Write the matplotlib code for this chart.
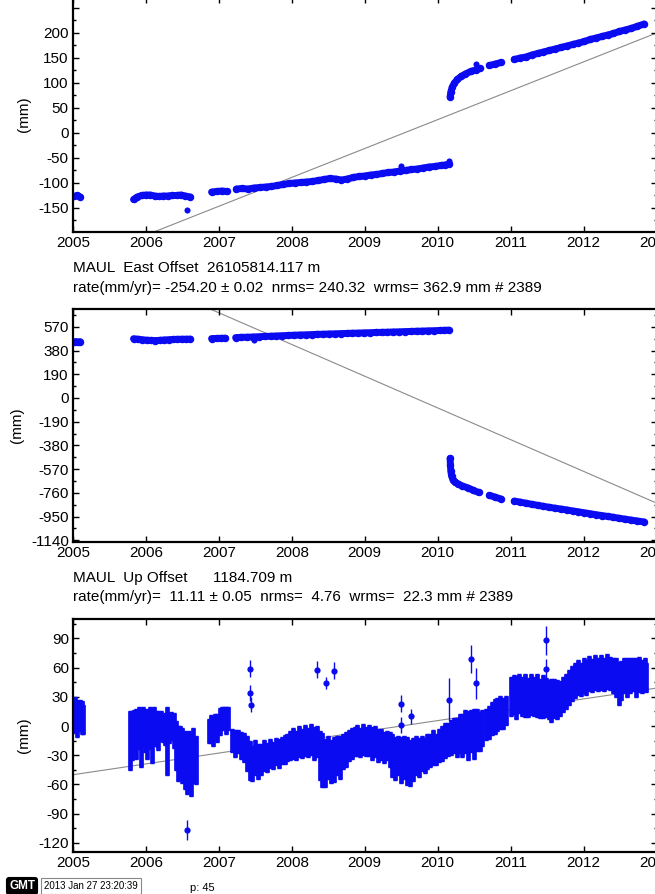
import numpy as np
import matplotlib
matplotlib.use("Agg")
import matplotlib.pyplot as plt
from matplotlib.ticker import MultipleLocator, FixedLocator, FuncFormatter

plt.rcParams['font.family'] = ['Liberation Sans', 'DejaVu Sans']
plt.rcParams['axes.unicode_minus'] = False

W, H = 655, 894
BLUE = '#0b0bf2'
GRAY = '#8a8a8a'
EQ_T = 2010.165          # offset epoch, the series are split there

# ---- top panel (north), mm -------------------------------------------
north_t = [2005.02, 2005.06, 2005.10,
           2005.83, 2005.88, 2005.94, 2006.00, 2006.06, 2006.12, 2006.18, 2006.24,
           2006.30, 2006.36, 2006.42, 2006.48, 2006.54, 2006.61,
           2006.90, 2006.97, 2007.04, 2007.11,
           2007.24, 2007.32, 2007.40, 2007.48, 2007.56, 2007.64, 2007.72, 2007.80,
           2007.88, 2007.96, 2008.04, 2008.12, 2008.20, 2008.28, 2008.36, 2008.44,
           2008.52, 2008.60, 2008.68, 2008.76, 2008.84, 2008.92, 2009.00, 2009.08,
           2009.16, 2009.24, 2009.32, 2009.40, 2009.48, 2009.56, 2009.64, 2009.72,
           2009.80, 2009.88, 2009.96, 2010.04, 2010.10, 2010.16,
           2010.17, 2010.18, 2010.20, 2010.23, 2010.27, 2010.32, 2010.38, 2010.45,
           2010.52, 2010.58,
           2010.71, 2010.79, 2010.87,
           2011.05, 2011.13, 2011.21, 2011.29, 2011.37, 2011.45, 2011.53, 2011.61,
           2011.69, 2011.77, 2011.85, 2011.93, 2012.01, 2012.09, 2012.17, 2012.25,
           2012.33, 2012.41, 2012.49, 2012.57, 2012.65, 2012.73, 2012.83]
north_v = [-127, -125, -128,
           -133, -128, -125, -124, -124, -126, -127, -126,
           -126, -125, -125, -124, -126, -128,
           -118, -117, -116, -117,
           -112, -111, -112, -110, -109, -108, -107, -105,
           -103, -101, -100, -99, -98, -97, -95, -93,
           -91, -92, -94, -92, -89, -87, -86, -84,
           -83, -81, -79, -78, -76, -75, -73, -72,
           -70, -68, -67, -65, -64, -62,
           72, 82, 92, 100, 107, 113, 118, 123,
           126, 129,
           135, 138, 141,
           147, 150, 152, 156, 159, 162, 165, 168,
           171, 174, 177, 180, 183, 187, 190, 193,
           196, 199, 203, 206, 209, 213, 218]
north_out_t = [2006.56, 2009.50, 2010.15, 2010.53]
north_out_v = [-154, -66, -57, 137]
north_fit = [-262, 200]          # fitted line at 2005 and 2013

# ---- middle panel (east), mm ------------------------------------------
east_t = [2005.03, 2005.07, 2005.10,
          2005.83, 2005.89, 2005.95, 2006.01, 2006.07, 2006.13, 2006.19, 2006.25,
          2006.31, 2006.37, 2006.43, 2006.49, 2006.55, 2006.61,
          2006.90, 2006.97, 2007.03, 2007.09,
          2007.23, 2007.31, 2007.39, 2007.47, 2007.55, 2007.63, 2007.71, 2007.79,
          2007.87, 2007.95, 2008.03, 2008.11, 2008.19, 2008.27, 2008.35, 2008.43,
          2008.51, 2008.59, 2008.67, 2008.75, 2008.83, 2008.91, 2008.99, 2009.07,
          2009.15, 2009.23, 2009.31, 2009.39, 2009.47, 2009.55, 2009.63, 2009.71,
          2009.79, 2009.87, 2009.95, 2010.03, 2010.09, 2010.15,
          2010.170, 2010.175, 2010.18, 2010.19, 2010.21, 2010.24, 2010.28, 2010.33,
          2010.42, 2010.49, 2010.56,
          2010.71, 2010.79, 2010.87,
          2011.05, 2011.13, 2011.21, 2011.29, 2011.37, 2011.45, 2011.53, 2011.61,
          2011.69, 2011.77, 2011.85, 2011.93, 2012.01, 2012.09, 2012.17, 2012.25,
          2012.33, 2012.41, 2012.49, 2012.57, 2012.65, 2012.73, 2012.83]
east_v = [452, 450, 451,
          475, 471, 467, 463, 461, 460, 462, 465,
          467, 469, 470, 471, 471, 472,
          476, 477, 478, 479,
          484, 486, 487, 489, 491, 493, 495, 497,
          499, 501, 503, 505, 506, 508, 510, 511,
          513, 514, 516, 517, 519, 520, 522, 523,
          525, 526, 527, 529, 530, 532, 533, 535,
          536, 538, 539, 541, 542, 544,
          -484, -540, -585, -625, -655, -675, -688, -703,
          -722, -740, -757,
          -780, -795, -810,
          -826, -834, -843, -852, -860, -868, -876, -883,
          -890, -897, -905, -912, -920, -927, -935, -942,
          -949, -956, -964, -971, -978, -985, -993]
east_out_t = [2007.48]
east_out_v = [463]
east_fit = [1191, -842]

# ---- bottom panel (up), mm: centre and spread of the dense band -------
up_t = [2005.00, 2005.03, 2005.06, 2005.09, 2005.12, 2005.14,
        2005.78, 2005.81, 2005.84, 2005.87, 2005.90, 2005.93, 2005.96, 2005.99,
        2006.02, 2006.05, 2006.08, 2006.11, 2006.14, 2006.17, 2006.20, 2006.23,
        2006.26, 2006.29, 2006.32, 2006.35, 2006.38, 2006.41, 2006.44, 2006.47,
        2006.50, 2006.53, 2006.56, 2006.59, 2006.62, 2006.65, 2006.68,
        2006.86, 2006.89, 2006.92, 2006.95, 2006.98, 2007.01, 2007.04, 2007.07,
        2007.10, 2007.13,
        2007.18, 2007.22, 2007.26, 2007.30, 2007.34, 2007.38, 2007.42, 2007.46,
        2007.50, 2007.54, 2007.58, 2007.62, 2007.66, 2007.70, 2007.74, 2007.78,
        2007.82, 2007.86, 2007.90, 2007.94, 2007.98, 2008.02, 2008.06, 2008.10,
        2008.14, 2008.18, 2008.22, 2008.26, 2008.30, 2008.34, 2008.38, 2008.42,
        2008.46, 2008.50, 2008.54, 2008.58, 2008.62, 2008.66, 2008.70, 2008.74,
        2008.78, 2008.82, 2008.86, 2008.90, 2008.94, 2008.98, 2009.02, 2009.06,
        2009.10, 2009.14, 2009.18, 2009.22, 2009.26, 2009.30, 2009.34, 2009.38,
        2009.42, 2009.46, 2009.50, 2009.54, 2009.58, 2009.62, 2009.66, 2009.70,
        2009.74, 2009.78, 2009.82, 2009.86, 2009.90, 2009.94, 2009.98, 2010.02,
        2010.06, 2010.10, 2010.14, 2010.18, 2010.22, 2010.26, 2010.30, 2010.34,
        2010.38, 2010.42, 2010.46, 2010.50, 2010.54, 2010.58, 2010.61,
        2010.66, 2010.70, 2010.74, 2010.78, 2010.82, 2010.86, 2010.90, 2010.93,
        2011.00, 2011.04, 2011.08, 2011.12, 2011.16, 2011.20, 2011.24, 2011.28,
        2011.32, 2011.36, 2011.40, 2011.44, 2011.48, 2011.52, 2011.56, 2011.60,
        2011.64, 2011.68, 2011.72, 2011.76, 2011.80, 2011.84, 2011.88, 2011.92,
        2011.96, 2012.00, 2012.04, 2012.08, 2012.12, 2012.16, 2012.20, 2012.24,
        2012.28, 2012.32, 2012.36, 2012.40, 2012.44, 2012.48, 2012.52, 2012.56,
        2012.60, 2012.64, 2012.68, 2012.72, 2012.76, 2012.80, 2012.84, 2012.86]
up_v = [10, 12, 8, 11, 9, 7,
        -15, -10, -5, -8, -2, -12, 0, -5,
        -8, -2, -10, 0, -3, -5, 0, -2,
        -3, -15, -2, 0, -5, -20, -28, -25,
        -30, -35, -38, -35, -40, -30, -35,
        -5, -3, -6, 0, -2, 5, 8, 10,
        6, 8,
        -15, -18, -16, -20, -22, -28, -35, -38,
        -32, -36, -34, -30, -32, -28, -30, -26,
        -28, -25, -24, -22, -20, -18, -20, -16,
        -18, -15, -17, -14, -18, -16, -30, -35,
        -38, -32, -36, -34, -30, -32, -26, -24,
        -20, -18, -16, -15, -17, -14, -16, -15,
        -18, -16, -20, -19, -22, -20, -24, -30,
        -33, -30, -35, -32, -36, -38, -34, -30,
        -32, -28, -30, -26, -25, -22, -24, -20,
        -18, -15, -14, -12, -10, -12, -8, -10,
        -6, -10, -5, -8, -4, -6, -2,
        2, 4, 8, 10, 12, 14, 13, 16,
        30, 32, 29, 33, 30, 31, 29, 32,
        30, 31, 28, 30, 29, 27, 26, 28,
        27, 28, 32, 36, 40, 44, 47, 50,
        48, 52, 50, 54, 52, 55, 53, 55,
        53, 56, 54, 52, 50, 44, 47, 52,
        50, 52, 53, 50, 53, 51, 54, 50]
up_e = [17, 18, 19, 16, 17, 15,
        30, 25, 22, 26, 22, 30, 20, 22,
        26, 22, 28, 20, 18, 20, 15, 14,
        16, 35, 15, 14, 18, 25, 28, 25,
        28, 30, 32, 30, 32, 28, 25,
        12, 14, 14, 12, 14, 14, 12, 10,
        14, 12,
        12, 14, 12, 14, 15, 18, 20, 18,
        18, 18, 16, 16, 15, 15, 14, 14,
        15, 14, 15, 14, 15, 16, 15, 16,
        15, 16, 15, 16, 17, 16, 25, 28,
        25, 22, 22, 23, 20, 22, 18, 18,
        16, 16, 15, 16, 15, 16, 15, 16,
        17, 16, 17, 16, 16, 15, 18, 22,
        22, 20, 24, 22, 25, 24, 22, 20,
        20, 18, 18, 18, 17, 18, 16, 17,
        18, 18, 17, 18, 18, 20, 20, 22,
        22, 25, 22, 26, 22, 20, 18,
        16, 17, 17, 18, 17, 17, 16, 15,
        20, 20, 22, 20, 20, 22, 20, 21,
        20, 22, 20, 22, 20, 20, 22, 20,
        20, 18, 18, 18, 18, 18, 18, 18,
        17, 18, 18, 18, 17, 18, 17, 18,
        17, 18, 17, 18, 20, 22, 20, 18,
        20, 18, 17, 20, 18, 17, 16, 15]
# isolated points with their own error bars
up_out_t = [2006.56, 2007.42, 2007.43, 2007.44, 2008.34, 2008.47, 2008.58,
            2009.50, 2009.50, 2009.63, 2010.15, 2010.46, 2010.52, 2011.48, 2011.48]
up_out_v = [-107, 59, 34, 22, 58, 44, 57, 23, 1, 10, 27, 69, 44, 88, 59]
up_out_e = [10, 9, 8, 8, 9, 6, 9, 9, 8, 8, 22, 14, 16, 15, 10]
up_fit = [-50, 39]

fit_t = [2005, 2013]
years = list(range(2005, 2014))


def px_axes(fig, top, bottom, left=73, right=656.5):
    # axes placed by pixel edges of the figure
    return fig.add_axes([left / W, 1 - bottom / H, (right - left) / W, (bottom - top) / H])


def style(ax, ylim, major, minor, labels=None):
    ax.set_xlim(2005, 2013)
    ax.set_ylim(*ylim)
    ax.xaxis.set_major_locator(FixedLocator(years))
    ax.xaxis.set_major_formatter(FuncFormatter(lambda v, p: '%d' % v))
    ax.yaxis.set_major_locator(FixedLocator(major))
    ax.yaxis.set_minor_locator(MultipleLocator(minor))
    if labels is not None:
        ax.set_yticklabels(labels)
    ax.tick_params(which='both', direction='in', top=True, right=True,
                   labelsize=11, width=1.0, pad=3)
    ax.tick_params(which='major', length=4.5)
    ax.tick_params(which='minor', length=2.5)
    for s in ax.spines.values():
        s.set_linewidth(1.6)
    ax.set_ylabel('(mm)', fontsize=11, labelpad=5)


def split(t, v):
    t = np.asarray(t, float)
    v = np.asarray(v, float)
    cut = np.where((np.diff(t) > 0.11) | ((t[:-1] < EQ_T) & (t[1:] > EQ_T)))[0] + 1
    return zip(np.split(t, cut), np.split(v, cut))


def draw_series(ax, t, v, out_t, out_v, fit):
    ax.plot(fit_t, fit, color=GRAY, lw=0.8, zorder=1)
    for st, sv in split(t, v):
        ax.plot(st, sv, '-o', color=BLUE, lw=5.0, ms=5.4, mew=0,
                solid_capstyle='round', zorder=2)
    ax.plot(out_t, out_v, 'o', color=BLUE, ms=4.4, mew=0, zorder=2)


def main():
    fig = plt.figure(figsize=(W / 100, H / 100), dpi=100)

    ax1 = px_axes(fig, -3, 232)
    draw_series(ax1, north_t, north_v, north_out_t, north_out_v, north_fit)
    style(ax1, (-198, 272), [-150, -100, -50, 0, 50, 100, 150, 200, 250], 25,
          ['-150', '-100', '-50', '0', '50', '100', '150', '200', ''])

    ax2 = px_axes(fig, 309, 542)
    draw_series(ax2, east_t, east_v, east_out_t, east_out_v, east_fit)
    style(ax2, (-1154, 713), [-1140, -950, -760, -570, -380, -190, 0, 190, 380, 570], 95)

    ax3 = px_axes(fig, 619, 852)
    ax3.plot(fit_t, up_fit, color=GRAY, lw=0.8, zorder=1)
    ax3.errorbar(up_t, up_v, yerr=up_e, fmt='none', ecolor=BLUE,
                 elinewidth=3.4, capsize=1.5, capthick=1, zorder=2)
    ax3.errorbar(up_out_t, up_out_v, yerr=up_out_e, fmt='o', color=BLUE, ms=4.5,
                 mew=0, elinewidth=1.0, capsize=2.5, capthick=1, zorder=2)
    style(ax3, (-129.4, 110), [-120, -90, -60, -30, 0, 30, 60, 90], 15)

    txt = dict(fontsize=11, ha='left', va='center')
    fig.text(73 / W, 1 - 268 / H, 'MAUL  East Offset  26105814.117 m', **txt)
    fig.text(73 / W, 1 - 288 / H,
             'rate(mm/yr)= -254.20 \u00b1 0.02  nrms= 240.32  wrms= 362.9 mm # 2389', **txt)
    fig.text(73 / W, 1 - 578 / H, 'MAUL  Up Offset      1184.709 m', **txt)
    fig.text(73 / W, 1 - 597 / H,
             'rate(mm/yr)=  11.11 \u00b1 0.05  nrms=  4.76  wrms=  22.3 mm # 2389', **txt)

    # footer stamp
    fig.text(9 / W, 1 - 886 / H, 'GMT', color='white', fontsize=8.5, fontweight='bold',
             va='center', bbox=dict(boxstyle='round,pad=0.2', fc='black', ec='black'))
    fig.text(44 / W, 1 - 886 / H, '2013 Jan 27 23:20:39', fontsize=7, va='center',
             bbox=dict(boxstyle='square,pad=0.3', fc='white', ec='#888888', lw=0.8))
    fig.text(190 / W, 1 - 888 / H, 'p: 45', fontsize=8, va='center')

    fig.savefig('out.png', dpi=100)


if __name__ == '__main__':
    main()
